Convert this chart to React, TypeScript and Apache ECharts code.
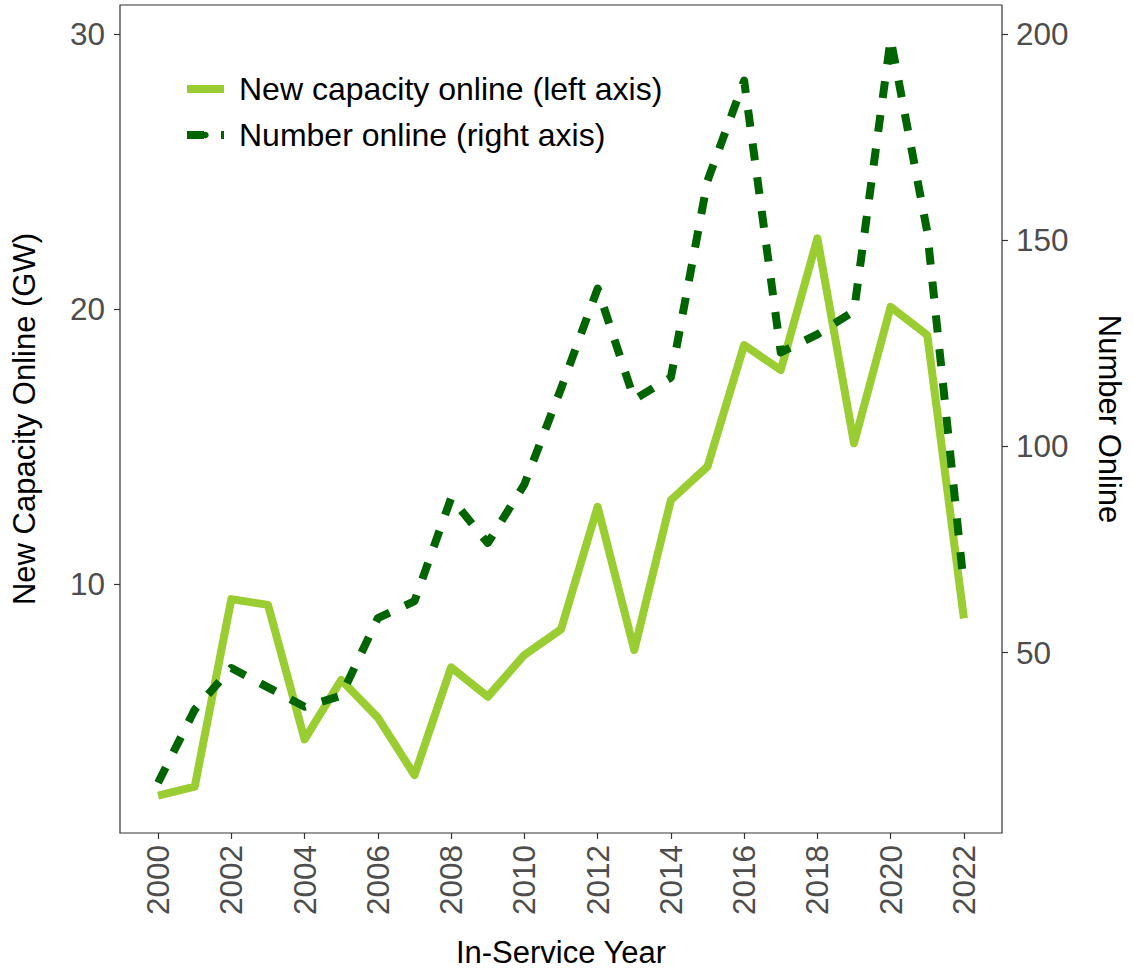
import React, { useEffect, useRef } from "react";
import * as echarts from "echarts";

const years = [2000, 2001, 2002, 2003, 2004, 2005, 2006, 2007, 2008, 2009, 2010, 2011, 2012, 2013, 2014, 2015, 2016, 2017, 2018, 2019, 2020, 2021, 2022];
const capacityGW = [2.3, 2.63, 9.45, 9.24, 4.35, 6.51, 5.14, 3.05, 6.97, 5.9, 7.42, 8.35, 12.81, 7.6, 13.05, 14.27, 18.69, 17.78, 22.57, 15.12, 20.08, 19.05, 8.75];
const numberOnline = [18.5, 36.2, 46.3, 41.6, 36.9, 39.6, 58.4, 62.5, 87.5, 76.6, 90.8, 114, 138.3, 111.4, 116.7, 164.4, 188.7, 122.8, 127.2, 132.8, 198.8, 152, 66.2];
const xTicks = [2000, 2002, 2004, 2006, 2008, 2010, 2012, 2014, 2016, 2018, 2020, 2022];
const leftTicks = [10, 20, 30];
const rightTicks = [50, 100, 150, 200];

const capName = "New capacity online (left axis)";
const numName = "Number online (right axis)";

const FONT = "Liberation Sans, Arial, Helvetica, sans-serif";
const TICK_COLOR = "#4d4d4d";
const LINE_COLOR = "#333333";

export default function App() {
  const ref = useRef<HTMLDivElement | null>(null);

  useEffect(() => {
    if (!ref.current) return;
    const chart = echarts.init(ref.current, null, { renderer: "svg" });
    const tickLabel = { color: TICK_COLOR, fontSize: 31.5, fontFamily: FONT };
    const axisTick = { show: true, length: 6, lineStyle: { color: LINE_COLOR, width: 1.2 } };
    chart.setOption({
      animation: false,
      backgroundColor: "#ffffff",
      grid: {
        left: 120,
        right: 130,
        top: 5,
        bottom: 143,
        show: true,
        borderColor: LINE_COLOR,
        borderWidth: 1.2,
        backgroundColor: "transparent",
      },
      legend: {
        orient: "vertical",
        left: 183,
        top: 73,
        padding: 0,
        itemWidth: 37,
        itemHeight: 8,
        itemGap: 14,
        data: [capName, numName],
        lineStyle: { width: 8 },
        textStyle: {
          color: "#000000",
          fontSize: 32,
          fontFamily: FONT,
          lineHeight: 31,
          padding: [0, 0, 0, 10],
        },
      },
      xAxis: {
        type: "value",
        min: 1998.96,
        max: 2023.04,
        name: "In-Service Year",
        nameLocation: "middle",
        nameGap: 104,
        nameTextStyle: { color: "#000000", fontSize: 31, fontFamily: FONT },
        axisLine: { show: false },
        axisTick: { ...axisTick, customValues: xTicks },
        axisLabel: { ...tickLabel, rotate: 90, margin: 12, customValues: xTicks, formatter: (v: number) => String(v) },
        splitLine: { show: false },
      },
      yAxis: [
        {
          type: "value",
          min: 0.945,
          max: 31.055,
          position: "left",
          name: "New Capacity Online (GW)",
          nameLocation: "middle",
          nameGap: 80,
          nameTextStyle: { color: "#000000", fontSize: 31, fontFamily: FONT },
          axisLine: { show: false },
          axisTick: { ...axisTick, customValues: leftTicks },
          axisLabel: { ...tickLabel, margin: 15, customValues: leftTicks },
          splitLine: { show: false },
        },
        {
          type: "value",
          min: 6.3,
          max: 207.03,
          position: "right",
          name: "Number Online",
          nameLocation: "middle",
          nameRotate: -90,
          nameGap: 92,
          nameTextStyle: { color: "#000000", fontSize: 31, fontFamily: FONT },
          axisLine: { show: false },
          axisTick: { ...axisTick, customValues: rightTicks },
          axisLabel: { ...tickLabel, margin: 14, customValues: rightTicks },
          splitLine: { show: false },
        },
      ],
      series: [
        {
          name: capName,
          type: "line",
          yAxisIndex: 0,
          data: years.map((y, i) => [y, capacityGW[i]]),
          symbol: "none",
          showSymbol: false,
          lineStyle: { color: "#9ACD32", width: 8, cap: "butt", join: "round" },
          itemStyle: { color: "#9ACD32" },
        },
        {
          name: numName,
          type: "line",
          yAxisIndex: 1,
          data: years.map((y, i) => [y, numberOnline[i]]),
          symbol: "none",
          showSymbol: false,
          lineStyle: { color: "#006400", width: 8, type: [17, 17], cap: "butt", join: "round" },
          itemStyle: { color: "#006400" },
        },
      ],
    });
    return () => chart.dispose();
  }, []);

  return (
    <div
      ref={ref}
      style={{ position: "absolute", left: 0, top: 0, width: 1133, height: 976, background: "#fff" }}
    />
  );
}
